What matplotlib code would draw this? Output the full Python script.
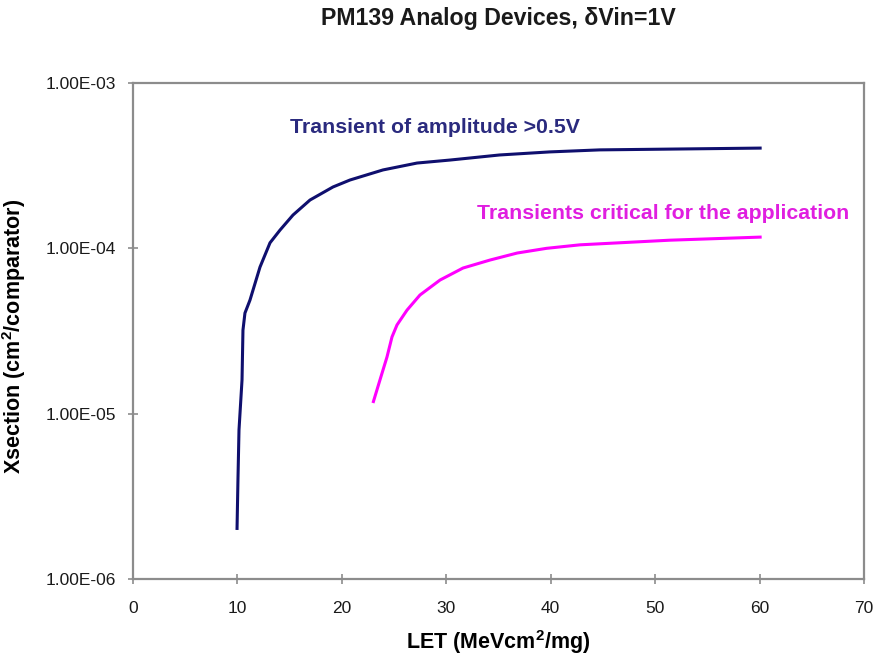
import numpy as np
import matplotlib
matplotlib.use("Agg")
import matplotlib.pyplot as plt
from matplotlib.ticker import FixedLocator, FuncFormatter, NullLocator, MultipleLocator

plt.rcParams.update({
    "font.family": ["Liberation Sans", "DejaVu Sans"],
    "mathtext.fontset": "custom",
    "mathtext.rm": "Liberation Sans:bold",
    "mathtext.default": "rm",
})

# cross section vs LET
let_amp = [9.96, 10.05, 10.15, 10.44, 10.53, 10.72, 11.2, 12.16, 13.12, 14.08,
           15.32, 16.95, 19.15, 20.78, 23.94, 27.2, 30.36, 35.1, 39.9, 44.7, 60.2]
xs_amp = [1.98e-6, 3.97e-6, 7.97e-6, 1.6e-5, 3.2e-5, 4.06e-5, 4.86e-5, 7.7e-5,
          1.08e-4, 1.29e-4, 1.59e-4, 1.96e-4, 2.35e-4, 2.59e-4, 2.98e-4, 3.28e-4,
          3.42e-4, 3.67e-4, 3.83e-4, 3.94e-4, 4.04e-4]

let_crit = [22.98, 23.65, 24.32, 24.8, 25.28, 26.24, 27.48, 29.4, 31.6, 34.2,
            36.8, 39.6, 42.8, 51.4, 60.2]
xs_crit = [1.16e-5, 1.6e-5, 2.2e-5, 2.91e-5, 3.44e-5, 4.23e-5, 5.22e-5, 6.43e-5,
           7.6e-5, 8.5e-5, 9.37e-5, 1.0e-4, 1.05e-4, 1.12e-4, 1.17e-4]

yticks = [1e-6, 1e-5, 1e-4, 1e-3]

col_amp = "#0f0f6e"
col_crit = "#ff00ff"
spine_col = "#8c8c8c"

fig = plt.figure(figsize=(8.74, 6.59), dpi=100)
ax = fig.add_axes([133 / 874, 1 - 579 / 659, (864 - 133) / 874, (579 - 83) / 659])

ax.plot(let_amp, xs_amp, color=col_amp, lw=2.2, solid_capstyle="butt")
ax.plot(let_crit, xs_crit, color=col_crit, lw=2.2, solid_capstyle="butt")

ax.set_yscale("log")
ax.set_ylim(1e-6, 1e-3)
ax.set_xlim(0, 70)
ax.yaxis.set_major_locator(FixedLocator(yticks))
ax.yaxis.set_minor_locator(NullLocator())
ax.yaxis.set_major_formatter(FuncFormatter(lambda v, p: f"{v:.2E}"))
ax.xaxis.set_major_locator(MultipleLocator(10))

for s in ax.spines.values():
    s.set_color(spine_col)
    s.set_linewidth(1.6)
ax.tick_params(axis="both", direction="inout", length=7, width=1.2,
               color=spine_col, labelsize=12.5, labelcolor="#1a1a1a")
ax.tick_params(axis="x", pad=12)
ax.tick_params(axis="y", pad=9)

ax.text(15.0, 10 ** -3.27, "Transient of amplitude >0.5V", color="#2a2a7e",
        fontsize=15.3, fontweight="bold", va="center", ha="left")
ax.text(32.9, 10 ** -3.79, "Transients critical for the application", color="#e01ee0",
        fontsize=15.3, fontweight="bold", va="center", ha="left")

fig.text(498 / 874, 1 - 18 / 659, "PM139 Analog Devices, δVin=1V",
         fontsize=16.7, fontweight="bold", ha="center", va="center", color="#1a1a1a")
ax.set_xlabel("LET (MeVcm$^{2}$/mg)", fontsize=15.5, fontweight="bold")
ax.set_ylabel("Xsection (cm$^{2}$/comparator)", fontsize=15.5, fontweight="bold")
ax.xaxis.set_label_coords(0.5, -0.098)
ax.yaxis.set_label_coords(-0.143, 0.49)

fig.savefig("out.png", dpi=100)
